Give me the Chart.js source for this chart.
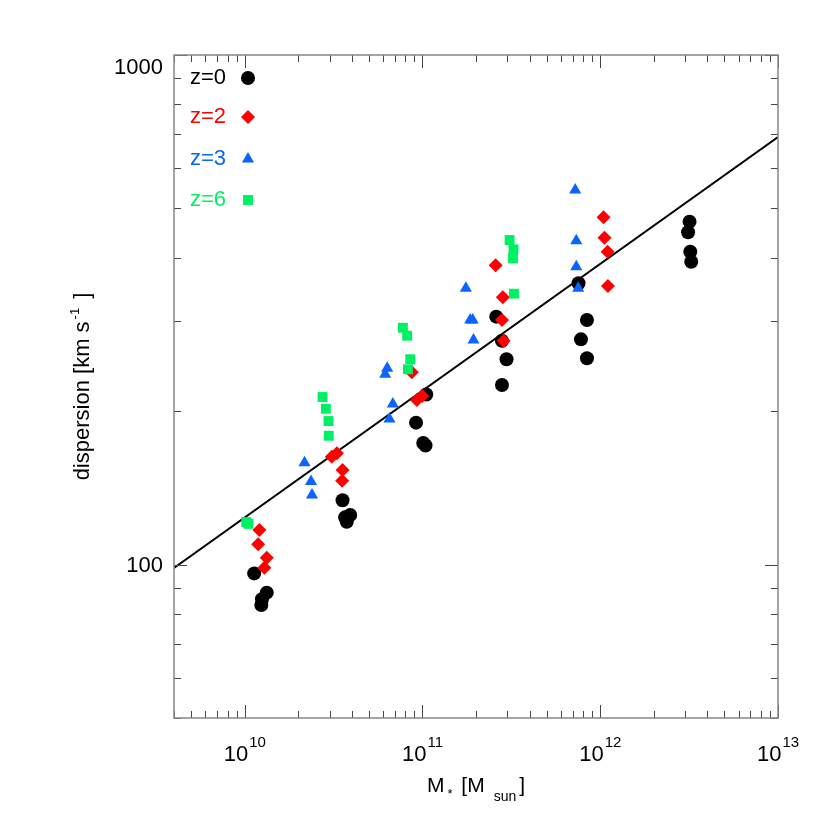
<!DOCTYPE html>
<html>
<head>
<meta charset="utf-8">
<script src="https://cdn.jsdelivr.net/npm/chart.js@4.4.1/dist/chart.umd.min.js"></script>
<style>
  body { margin: 0; background: #fff; }
  #wrap { width: 830px; height: 830px; }
</style>
</head>
<body>
<div id="wrap"><canvas id="myChart" width="830" height="830"></canvas></div>
<script>
// stellar mass [Msun] vs velocity dispersion [km/s]
const z0Mass = [1.13e10, 1.33e10, 1.25e10, 1.24e10, 3.55e10, 3.67e10, 3.92e10, 3.75e10,
  1.05e11, 9.2e10, 1.01e11, 1.04e11, 2.6e11, 2.8e11, 2.97e11, 2.8e11,
  7.55e11, 8.42e11, 7.79e11, 8.42e11, 3.18e12, 3.12e12, 3.21e12, 3.25e12];
const z0Disp = [96.1, 88.1, 85.5, 83.3, 133.7, 123.8, 125.1, 121.4,
  215.7, 189.9, 173.2, 171.3, 306.6, 275, 252.9, 225.1,
  356.5, 302, 276.7, 254, 471, 448.9, 411.1, 393];

const z2Mass = [1.21e10, 1.19e10, 1.33e10, 1.29e10, 3.09e10, 3.3e10, 3.55e10, 3.53e10,
  8.71e10, 9.3e10, 9.96e10, 2.58e11, 2.83e11, 2.8e11, 2.86e11,
  1.044e12, 1.057e12, 1.1e12, 1.105e12];
const z2Disp = [116.9, 109.6, 103.2, 98.6, 162.8, 165.3, 153.3, 146.1,
  238.4, 210.4, 214.2, 386.7, 334.6, 302, 275,
  480.4, 438, 411.1, 352.1];

const z3Mass = [2.17e10, 2.36e10, 2.39e10, 6.17e10, 6.33e10, 6.81e10, 6.52e10,
  1.754e11, 1.855e11, 1.916e11, 1.936e11, 7.23e11, 7.33e11, 7.33e11, 7.52e11];
const z3Disp = [158.5, 145.5, 136.9, 236.3, 242.8, 206.7, 193.1,
  348.5, 302, 302, 275.8, 543.5, 432.2, 384.3, 348.5];

const z6Mass = [1.02e10, 1.05e10, 2.74e10, 2.86e10, 2.96e10, 2.97e10,
  7.76e10, 8.2e10, 8.53e10, 8.28e10, 3.09e11, 3.25e11, 3.23e11, 3.27e11];
const z6Disp = [121.2, 120.2, 213.2, 202.2, 191.3, 179,
  291.6, 281.3, 252.9, 241.7, 433.5, 415.6, 399, 340.1];

// fitted relation, end points only
const fitMass = [4e9, 1e13];
const fitDisp = [98.5, 690];

// axis labels
const xTickValues = [1e10, 1e11, 1e12, 1e13];
const xTickExps = ['10', '11', '12', '13'];
const yTickValues = [100, 1000];
const yTickLabels = ['100', '1000'];

const FONT = '"Liberation Sans", Arial, Helvetica, sans-serif';

function pairs(xs, ys) {
  return xs.map((v, i) => ({ x: v, y: ys[i] }));
}

function logTicks(min, max) {
  const out = [];
  for (let e = Math.floor(Math.log10(min)); e <= Math.ceil(Math.log10(max)); e++) {
    for (let m = 1; m <= 9; m++) {
      const v = m * Math.pow(10, e);
      if (v >= min * 0.999 && v <= max * 1.001) out.push({ v: v, major: m === 1 });
    }
  }
  return out;
}

// draw a run of text pieces [text, size, dy, gapAfter], centred on cx
function drawRich(ctx, parts, cx, baseline) {
  let w = 0;
  parts.forEach(p => {
    ctx.font = p[1] + 'px ' + FONT;
    w += ctx.measureText(p[0]).width + (p[3] || 0);
  });
  let xx = cx - w / 2;
  parts.forEach(p => {
    ctx.font = p[1] + 'px ' + FONT;
    ctx.fillText(p[0], xx, baseline + (p[2] || 0));
    xx += ctx.measureText(p[0]).width + (p[3] || 0);
  });
}

const axesPlugin = {
  id: 'idlAxes',
  afterDraw(chart) {
    const ctx = chart.ctx;
    const a = chart.chartArea;
    const xs = chart.scales.x, ys = chart.scales.y;
    ctx.save();

    // ticks pointing inwards on all four sides
    ctx.strokeStyle = '#444';
    ctx.lineWidth = 1;
    logTicks(xs.min, xs.max).forEach(t => {
      const px = Math.round(xs.getPixelForValue(t.v)) + 0.5;
      const len = t.major ? 13 : 7;
      ctx.beginPath();
      ctx.moveTo(px, a.bottom); ctx.lineTo(px, a.bottom - len);
      ctx.moveTo(px, a.top); ctx.lineTo(px, a.top + len);
      ctx.stroke();
    });
    logTicks(ys.min, ys.max).forEach(t => {
      const py = Math.round(ys.getPixelForValue(t.v)) + 0.5;
      const len = t.major ? 13 : 7;
      ctx.beginPath();
      ctx.moveTo(a.left, py); ctx.lineTo(a.left + len, py);
      ctx.moveTo(a.right, py); ctx.lineTo(a.right - len, py);
      ctx.stroke();
    });

    // frame
    ctx.strokeStyle = '#888';
    ctx.lineWidth = 1.5;
    ctx.strokeRect(a.left, a.top, a.right - a.left, a.bottom - a.top);

    // tick labels
    ctx.fillStyle = '#000';
    ctx.textBaseline = 'alphabetic';
    ctx.textAlign = 'left';
    xTickValues.forEach((v, i) => {
      const px = xs.getPixelForValue(v);
      drawRich(ctx, [['10', 22, 0, 1], [xTickExps[i], 15, -14, 0]], px, a.bottom + 43);
    });
    ctx.textAlign = 'right';
    ctx.textBaseline = 'middle';
    ctx.font = '22px ' + FONT;
    yTickValues.forEach((v, i) => {
      const py = Math.max(ys.getPixelForValue(v), a.top + 12);
      ctx.fillText(yTickLabels[i], a.left - 11, py + 1);
    });

    // axis titles
    ctx.textAlign = 'left';
    ctx.textBaseline = 'alphabetic';
    drawRich(ctx, [['M', 21, 0, 3], ['*', 13, 6, 3], [' [M', 21, 0, 9], ['sun', 14, 9, 3], [']', 21, 0, 0]],
      (a.left + a.right) / 2, a.bottom + 74);
    ctx.save();
    ctx.translate(a.left - 85, (a.top + a.bottom) / 2);
    ctx.rotate(-Math.PI / 2);
    drawRich(ctx, [['dispersion [km s', 22, 0, 2], ['-1', 13, -10, 3], [' ]', 22, 0, 0]], 0, 0);
    ctx.restore();

    // legend inside the plot: label, then marker
    const rows = [78, 117, 159, 200];
    chart.data.datasets.filter(d => d.pointStyle).forEach((d, i) => {
      const yy = rows[i];
      ctx.fillStyle = d.pointBackgroundColor;
      ctx.textAlign = 'left';
      ctx.textBaseline = 'middle';
      ctx.font = '22px ' + FONT;
      ctx.fillText(d.label, a.left + 16, yy);
      Chart.helpers.drawPoint(ctx, { pointStyle: d.pointStyle, radius: 7, rotation: 0, borderWidth: 0 },
        a.left + 74, yy);
    });
    ctx.restore();
  }
};

new Chart(document.getElementById('myChart'), {
  type: 'scatter',
  data: {
    datasets: [
      { label: 'z=0', data: pairs(z0Mass, z0Disp), pointStyle: 'circle', pointRadius: 7,
        pointBackgroundColor: '#000000', pointBorderWidth: 0, order: 4 },
      { label: 'z=2', data: pairs(z2Mass, z2Disp), pointStyle: 'rectRot', pointRadius: 7,
        pointBackgroundColor: '#ff0000', pointBorderWidth: 0, order: 3 },
      { label: 'z=3', data: pairs(z3Mass, z3Disp), pointStyle: 'triangle', pointRadius: 7,
        pointBackgroundColor: '#0a64ff', pointBorderWidth: 0, order: 2 },
      { label: 'z=6', data: pairs(z6Mass, z6Disp), pointStyle: 'rect', pointRadius: 7,
        pointBackgroundColor: '#00f064', pointBorderWidth: 0, order: 1 },
      { type: 'line', label: 'fit', data: pairs(fitMass, fitDisp), borderColor: '#000',
        borderWidth: 2, pointRadius: 0, fill: false, order: 5 }
    ]
  },
  options: {
    responsive: false,
    animation: false,
    events: [],
    layout: { padding: { left: 174, top: 55, right: 52, bottom: 112 } },
    plugins: { legend: { display: false }, tooltip: { enabled: false } },
    scales: {
      x: { type: 'logarithmic', min: 4e9, max: 1e13, display: false },
      y: { type: 'logarithmic', min: 50, max: 1000, display: false }
    }
  },
  plugins: [axesPlugin]
});
</script>
</body>
</html>
